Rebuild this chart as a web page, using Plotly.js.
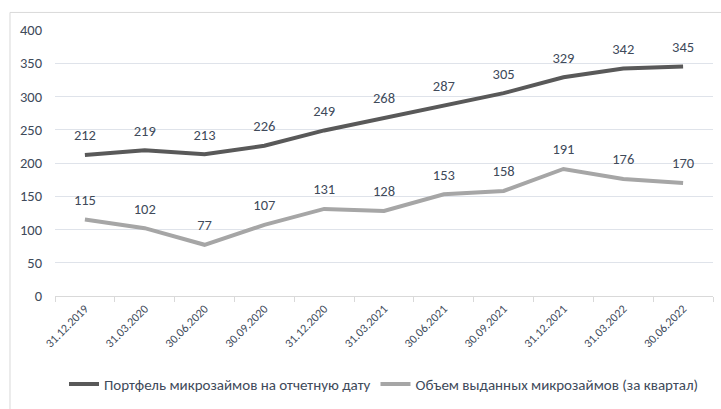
<!DOCTYPE html>
<html>
<head>
<meta charset="utf-8">
<script src="https://cdn.plot.ly/plotly-3.0.1.min.js"></script>
<style>
html,body{margin:0;padding:0;background:#fff;}
#chart{width:721px;height:409px;}
</style>
</head>
<body>
<div id="chart"></div>
<script>
const categories = ["31.12.2019","31.03.2020","30.06.2020","30.09.2020","31.12.2020","31.03.2021","30.06.2021","30.09.2021","31.12.2021","31.03.2022","30.06.2022"];
const portfolio = [212,219,213,226,249,268,287,305,329,342,345];
const issued = [115,102,77,107,131,128,153,158,191,176,170];
const seriesNames = ["Портфель микрозаймов на отчетную дату","Объем выданных микрозаймов (за квартал)"];
const yTicks = [0,50,100,150,200,250,300,350,400];

const textColor = "#404a5a";
const fontFamily = "Carlito, Calibri, 'Liberation Sans', sans-serif";

function series(y, name, color){
  return {
    x: categories, y: y, name: name, type: "scatter",
    mode: "lines+markers+text",
    line: {color: color, width: 4},
    marker: {size: 16, color: "rgba(0,0,0,0)"},
    text: y.map(String), textposition: "top center",
    textfont: {size: 14.5, color: textColor, family: fontFamily},
    cliponaxis: false, hoverinfo: "skip"
  };
}

const data = [series(portfolio, seriesNames[0], "#595959"), series(issued, seriesNames[1], "#a6a6a6")];

const layout = {
  width: 721, height: 409,
  margin: {l: 55, r: 8, t: 30, b: 108},
  paper_bgcolor: "#fff", plot_bgcolor: "#fff",
  font: {family: fontFamily, size: 14, color: textColor},
  showlegend: true,
  legend: {orientation: "h", x: 0.50, xanchor: "center", y: -0.332, yanchor: "middle",
           font: {size: 15, color: textColor}, itemgap: 4, bgcolor: "rgba(0,0,0,0)"},
  xaxis: {type: "category", range: [-0.5, 10.5], tickangle: -45, tickson: "boundaries",
          ticks: "outside", ticklen: 5, tickcolor: "#d9d9d9", showline: true, linecolor: "#d9d9d9",
          showgrid: false, zeroline: false, tickfont: {size: 12, color: textColor}, fixedrange: true},
  yaxis: {range: [0, 400], tickvals: yTicks, showgrid: true, gridcolor: "#dfe3ea", gridwidth: 1,
          zeroline: false, showline: false, ticks: "", ticklabelstandoff: 12,
          tickfont: {size: 14.5, color: textColor}, fixedrange: true},
  shapes: [{type: "rect", xref: "paper", yref: "paper", x0: -0.0684, x1: 1.03, y0: -0.45, y1: 1.066,
            line: {color: "#d9d9d9", width: 1}, fillcolor: "rgba(0,0,0,0)", layer: "below"}]
};

Plotly.newPlot("chart", data, layout, {staticPlot: true, displayModeBar: false});
</script>
</body>
</html>
